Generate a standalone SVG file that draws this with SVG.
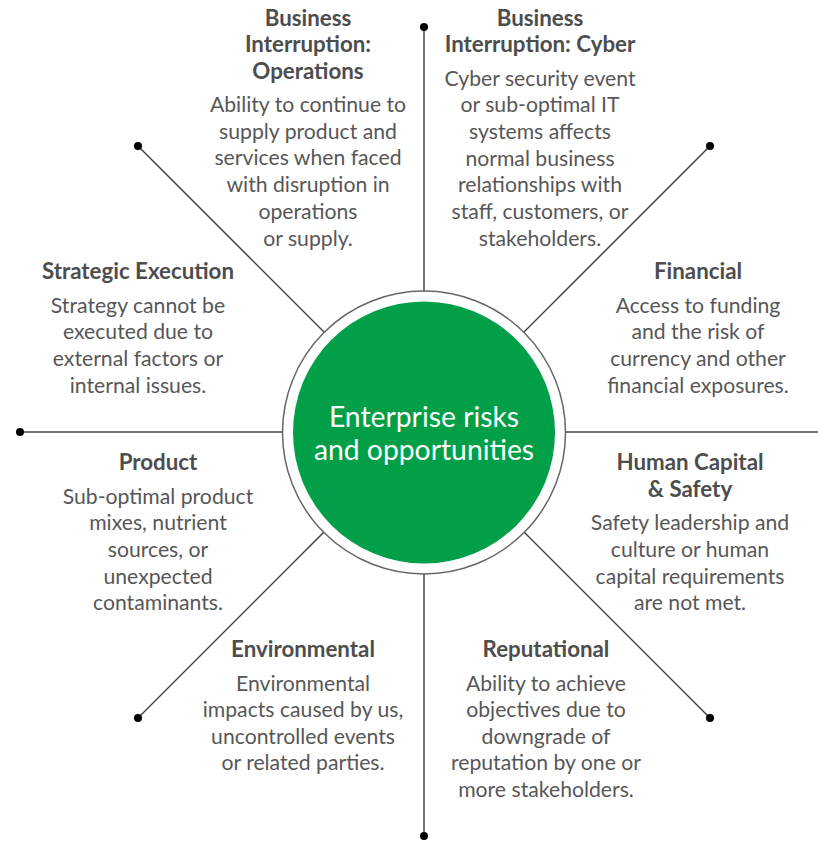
<svg xmlns="http://www.w3.org/2000/svg" width="818" height="841" viewBox="0 0 818 841">
<style>
.ln{stroke:#444;stroke-width:1.5;fill:none}
.dot{fill:#000}
text{font-family:"Lato","Open Sans",sans-serif;text-anchor:middle}
.t{font-size:22.3px;font-weight:bold;fill:#4d4d4d}
.b{font-size:21.2px;fill:#575757}
.c{font-size:28.3px;fill:#fff}
</style>
<rect width="818" height="841" fill="#fff"/>
<g id="connectors">
<line class="ln" x1="424" y1="27" x2="424" y2="836"/>
<line class="ln" x1="20" y1="432" x2="818" y2="432"/>
<line class="ln" x1="138" y1="146" x2="710" y2="718"/>
<line class="ln" x1="710" y1="146" x2="138" y2="718"/>
<circle class="dot" cx="424" cy="27" r="4"/>
<circle class="dot" cx="424" cy="836" r="4"/>
<circle class="dot" cx="20" cy="432" r="4"/>
<circle class="dot" cx="138" cy="146" r="4"/>
<circle class="dot" cx="710" cy="146" r="4"/>
<circle class="dot" cx="138" cy="718" r="4"/>
<circle class="dot" cx="710" cy="718" r="4"/>
</g>
<g id="center">
<circle cx="424" cy="432.5" r="141.5" fill="#fff" stroke="#666" stroke-width="1.5"/>
<circle cx="424" cy="432.5" r="131" fill="#009f48"/>
<text class="c" x="424" y="427">Enterprise risks</text>
<text class="c" x="424" y="460">and opportunities</text>
</g>
<g id="bi-operations">
<text class="t" x="308" y="26">Business</text>
<text class="t" x="308" y="52">Interruption:</text>
<text class="t" x="308" y="79">Operations</text>
<text class="b" x="308" y="112">Ability to continue to</text>
<text class="b" x="308" y="139">supply product and</text>
<text class="b" x="308" y="165">services when faced</text>
<text class="b" x="308" y="192">with disruption in</text>
<text class="b" x="308" y="219">operations</text>
<text class="b" x="308" y="246">or supply.</text>
</g>
<g id="bi-cyber">
<text class="t" x="540" y="26">Business</text>
<text class="t" x="540" y="52">Interruption: Cyber</text>
<text class="b" x="540" y="86">Cyber security event</text>
<text class="b" x="540" y="112">or sub-optimal IT</text>
<text class="b" x="540" y="139">systems affects</text>
<text class="b" x="540" y="166">normal business</text>
<text class="b" x="540" y="192">relationships with</text>
<text class="b" x="540" y="219">staff, customers, or</text>
<text class="b" x="540" y="246">stakeholders.</text>
</g>
<g id="strategic-execution">
<text class="t" x="138" y="279">Strategic Execution</text>
<text class="b" x="138" y="313">Strategy cannot be</text>
<text class="b" x="138" y="339">executed due to</text>
<text class="b" x="138" y="366">external factors or</text>
<text class="b" x="138" y="393">internal issues.</text>
</g>
<g id="financial">
<text class="t" x="698" y="279">Financial</text>
<text class="b" x="698" y="313">Access to funding</text>
<text class="b" x="698" y="339">and the risk of</text>
<text class="b" x="698" y="366">currency and other</text>
<text class="b" x="698" y="393">financial exposures.</text>
</g>
<g id="product">
<text class="t" x="158" y="470">Product</text>
<text class="b" x="158" y="504">Sub-optimal product</text>
<text class="b" x="158" y="530">mixes, nutrient</text>
<text class="b" x="158" y="557">sources, or</text>
<text class="b" x="158" y="584">unexpected</text>
<text class="b" x="158" y="610">contaminants.</text>
</g>
<g id="human-capital">
<text class="t" x="690" y="470">Human Capital</text>
<text class="t" x="690" y="497">&amp; Safety</text>
<text class="b" x="690" y="530">Safety leadership and</text>
<text class="b" x="690" y="557">culture or human</text>
<text class="b" x="690" y="584">capital requirements</text>
<text class="b" x="690" y="610">are not met.</text>
</g>
<g id="environmental">
<text class="t" x="303" y="657">Environmental</text>
<text class="b" x="303" y="691">Environmental</text>
<text class="b" x="303" y="717">impacts caused by us,</text>
<text class="b" x="303" y="744">uncontrolled events</text>
<text class="b" x="303" y="770">or related parties.</text>
</g>
<g id="reputational">
<text class="t" x="546" y="657">Reputational</text>
<text class="b" x="546" y="691">Ability to achieve</text>
<text class="b" x="546" y="717">objectives due to</text>
<text class="b" x="546" y="744">downgrade of</text>
<text class="b" x="546" y="770">reputation by one or</text>
<text class="b" x="546" y="797">more stakeholders.</text>
</g>
</svg>
